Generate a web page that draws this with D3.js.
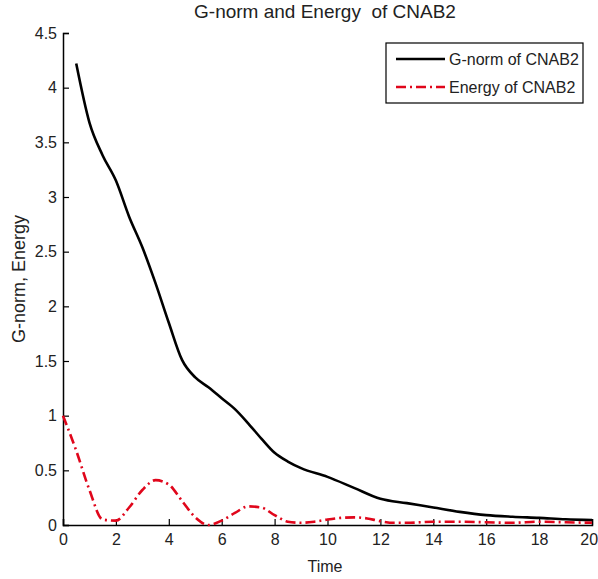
<!DOCTYPE html>
<html>
<head>
<meta charset="utf-8">
<script src="https://cdn.jsdelivr.net/npm/d3@7"></script>
<style>
  body { margin: 0; background: #fff; }
  text { font-family: "Liberation Sans", Arial, sans-serif; fill: #222; }
</style>
</head>
<body>
<div id="chart"></div>
<script>
// data
var gnormT = [0.5, 1, 1.5, 2, 2.5, 3, 3.5, 4, 4.5, 5, 5.5, 6, 6.5, 7, 7.5, 8, 8.5, 9, 10, 11, 12, 13, 14, 15, 16, 17, 18, 19, 20];
var gnormV = [4.22, 3.68, 3.38, 3.15, 2.82, 2.54, 2.21, 1.85, 1.51, 1.35, 1.26, 1.16, 1.06, 0.93, 0.79, 0.66, 0.58, 0.52, 0.44, 0.34, 0.24, 0.2, 0.16, 0.12, 0.09, 0.075, 0.065, 0.052, 0.045];
var energyT = [0, 0.5, 1, 1.5, 2, 2.5, 3, 3.5, 4, 4.5, 5, 5.5, 6, 6.5, 7, 7.5, 8, 8.5, 9, 9.5, 10, 10.5, 11, 11.5, 12, 12.5, 13, 14, 15, 16, 17, 18, 19, 20];
var energyV = [1.0, 0.68, 0.32, 0.05, 0.04, 0.16, 0.32, 0.41, 0.37, 0.22, 0.07, 0.0, 0.04, 0.11, 0.17, 0.16, 0.09, 0.03, 0.02, 0.03, 0.05, 0.065, 0.07, 0.06, 0.035, 0.02, 0.02, 0.03, 0.03, 0.025, 0.02, 0.03, 0.025, 0.02];
var xTicks = [0, 2, 4, 6, 8, 10, 12, 14, 16, 18, 20];
var yTicks = [0, 0.5, 1, 1.5, 2, 2.5, 3, 3.5, 4, 4.5];
var legendLabels = ["G-norm of CNAB2", "Energy of CNAB2"];

var width = 598, height = 579;
var margin = {top: 33, right: 6, bottom: 54, left: 63};

var svg = d3.select("#chart").append("svg")
  .attr("width", width)
  .attr("height", height);

var x = d3.scaleLinear().domain([0, 20]).range([margin.left, width - margin.right]);
var y = d3.scaleLinear().domain([0, 4.5]).range([height - margin.bottom, margin.top]);

// axes (ticks point inward like matlab)
var xAxis = svg.append("g")
  .attr("transform", "translate(0," + y(0) + ")")
  .call(d3.axisBottom(x).tickValues(xTicks).tickSize(-6).tickPadding(9).tickFormat(d3.format("d")));
var yAxis = svg.append("g")
  .attr("transform", "translate(" + x(0) + ",0)")
  .call(d3.axisLeft(y).tickValues(yTicks).tickSize(-6).tickPadding(6).tickFormat(function(d) { return "" + d; }));

[xAxis, yAxis].forEach(function(a) {
  a.select(".domain").attr("stroke", "#000").attr("stroke-width", 1.5);
  a.selectAll(".tick line").attr("stroke", "#000").attr("stroke-width", 1.2);
  a.selectAll(".tick text").style("font-size", "16px").attr("fill", "#222");
});
// keep the last x label inside the picture
xAxis.selectAll(".tick text").filter(function(d) { return d === 20; })
  .attr("text-anchor", "end").attr("dx", "0.35em");

// lines
var line = d3.line().curve(d3.curveMonotoneX)
  .x(function(d) { return x(d[0]); })
  .y(function(d) { return y(d[1]); });

svg.append("path")
  .datum(d3.zip(gnormT, gnormV))
  .attr("fill", "none")
  .attr("stroke", "#000")
  .attr("stroke-width", 2.6)
  .attr("d", line);

svg.append("path")
  .datum(d3.zip(energyT, energyV))
  .attr("fill", "none")
  .attr("stroke", "#e0061b")
  .attr("stroke-width", 2.6)
  .attr("stroke-dasharray", "10,4,2,4")
  .attr("d", line);

// title and labels
svg.append("text")
  .attr("x", 325).attr("y", 18)
  .attr("text-anchor", "middle")
  .style("font-size", "19px")
  .style("white-space", "pre")
  .text("G-norm and Energy  of CNAB2");

svg.append("text")
  .attr("x", 325).attr("y", 572)
  .attr("text-anchor", "middle")
  .style("font-size", "16px")
  .text("Time");

svg.append("text")
  .attr("transform", "translate(25,279) rotate(-90)")
  .attr("text-anchor", "middle")
  .style("font-size", "18px")
  .text("G-norm, Energy");

// legend
var legend = svg.append("g");
legend.append("rect")
  .attr("x", 386).attr("y", 43)
  .attr("width", 197).attr("height", 60)
  .attr("fill", "#fff")
  .attr("stroke", "#000")
  .attr("stroke-width", 1.2);

var legendColors = ["#000", "#e0061b"];
var legendDash = [null, "10,4,2,4"];
legendLabels.forEach(function(lab, i) {
  var ly = 59 + i * 28;
  legend.append("line")
    .attr("x1", 396).attr("x2", 445)
    .attr("y1", ly).attr("y2", ly)
    .attr("stroke", legendColors[i])
    .attr("stroke-width", 2.6)
    .attr("stroke-dasharray", legendDash[i]);
  legend.append("text")
    .attr("x", 449).attr("y", ly + 6)
    .style("font-size", "16px")
    .text(lab);
});
</script>
</body>
</html>
